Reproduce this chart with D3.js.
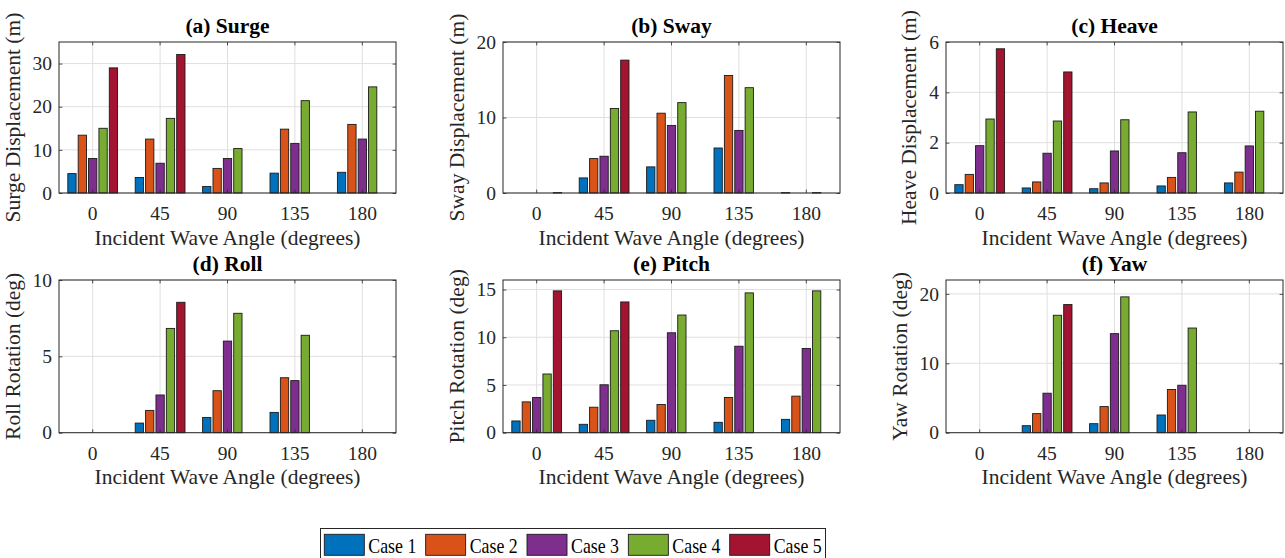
<!DOCTYPE html>
<html>
<head>
<meta charset="utf-8">
<script src="https://cdn.jsdelivr.net/npm/d3@7"></script>
<style>
  html, body { margin: 0; padding: 0; background: #ffffff; }
  svg { display: block; }
  text { font-family: "Liberation Serif", "Times New Roman", serif; }
</style>
</head>
<body>
<svg id="chart" width="1285" height="558"></svg>
<script>
// ---------------- data ----------------
const angles = ["0", "45", "90", "135", "180"];
const cases = ["Case 1", "Case 2", "Case 3", "Case 4", "Case 5"];
const caseColors = ["#0072BD", "#D95319", "#7E2F8E", "#77AC30", "#A2142F"];

// rows = incident wave angle, columns = Case 1..5 (null = no bar)
const surge = [
  [4.5, 13.4, 8.0, 15.0, 29.0],
  [3.6, 12.5, 6.9, 17.3, 32.1],
  [1.5, 5.7, 8.0, 10.3, null],
  [4.6, 14.8, 11.5, 21.4, null],
  [4.8, 15.9, 12.5, 24.6, null]
];
const sway = [
  [null, null, null, null, 0.05],
  [2.0, 4.56, 4.87, 11.2, 17.6],
  [3.46, 10.57, 8.95, 11.97, null],
  [5.96, 15.57, 8.29, 13.95, null],
  [0.05, null, null, 0.05, null]
];
const heave = [
  [0.33, 0.74, 1.88, 2.94, 5.73],
  [0.2, 0.44, 1.58, 2.86, 4.81],
  [0.17, 0.4, 1.67, 2.91, null],
  [0.28, 0.62, 1.6, 3.22, null],
  [0.4, 0.83, 1.87, 3.25, null]
];
const roll = [
  [null, null, null, null, null],
  [0.63, 1.46, 2.47, 6.83, 8.54],
  [1.0, 2.75, 6.0, 7.82, null],
  [1.33, 3.6, 3.41, 6.38, null],
  [null, null, null, null, null]
];
const pitch = [
  [1.23, 3.23, 3.69, 6.15, 14.86],
  [0.88, 2.67, 5.02, 10.68, 13.7],
  [1.3, 2.95, 10.47, 12.33, null],
  [1.09, 3.69, 9.06, 14.65, null],
  [1.4, 3.83, 8.82, 14.86, null]
];
const yaw = [
  [null, null, null, null, null],
  [1.01, 2.75, 5.69, 16.92, 18.46],
  [1.3, 3.76, 14.27, 19.57, null],
  [2.55, 6.22, 6.84, 15.08, null],
  [null, null, null, null, null]
];

const surgeTicks = [0, 10, 20, 30];
const swayTicks = [0, 10, 20];
const heaveTicks = [0, 2, 4, 6];
const rollTicks = [0, 5, 10];
const pitchTicks = [0, 5, 10, 15];
const yawTicks = [0, 10, 20];

const surgeMax = 35, swayMax = 20, heaveMax = 6, rollMax = 10, pitchMax = 16, yawMax = 22;

const xLabel = "Incident Wave Angle (degrees)";

// ---------------- layout ----------------
const colLeft = [59, 503, 946];
const plotW = 337;
const rowTop = [42, 280];
const rowBottom = [193, 432.7];

const panels = [
  { title: "(a) Surge", ylabel: "Surge Displacement (m)", data: surge, ticks: surgeTicks, ymax: surgeMax, col: 0, row: 0 },
  { title: "(b) Sway", ylabel: "Sway Displacement (m)", data: sway, ticks: swayTicks, ymax: swayMax, col: 1, row: 0 },
  { title: "(c) Heave", ylabel: "Heave Displacement (m)", data: heave, ticks: heaveTicks, ymax: heaveMax, col: 2, row: 0 },
  { title: "(d) Roll", ylabel: "Roll Rotation (deg)", data: roll, ticks: rollTicks, ymax: rollMax, col: 0, row: 1 },
  { title: "(e) Pitch", ylabel: "Pitch Rotation (deg)", data: pitch, ticks: pitchTicks, ymax: pitchMax, col: 1, row: 1 },
  { title: "(f) Yaw", ylabel: "Yaw Rotation (deg)", data: yaw, ticks: yawTicks, ymax: yawMax, col: 2, row: 1 }
];

const axisColor = "#262626";
const gridColor = "#dfdfdf";
const tickFont = 19.5;
const labelFont = 21.5;
const tickLen = 3.4;

const svg = d3.select("#chart");

panels.forEach(p => {
  const L = colLeft[p.col], R = L + plotW;
  const T = rowTop[p.row], B = rowBottom[p.row];
  const g = svg.append("g");

  const x0 = d3.scaleBand().domain(angles).range([L, R]).paddingInner(0).paddingOuter(0);
  const bw = x0.bandwidth();
  const gw = 5 / 6.5;
  const x1 = d3.scaleBand().domain(cases)
    .range([bw * (0.5 - gw / 2), bw * (0.5 + gw / 2)])
    .paddingInner(0.2).paddingOuter(0.1);
  const y = d3.scaleLinear().domain([0, p.ymax]).range([B, T]);
  const color = d3.scaleOrdinal().domain(cases).range(caseColors);

  // grid
  g.append("g").selectAll("line.hg").data(p.ticks).join("line")
    .attr("x1", L).attr("x2", R)
    .attr("y1", d => y(d)).attr("y2", d => y(d))
    .attr("stroke", gridColor).attr("stroke-width", 1);
  g.append("g").selectAll("line.vg").data(angles).join("line")
    .attr("x1", d => x0(d) + bw / 2).attr("x2", d => x0(d) + bw / 2)
    .attr("y1", T).attr("y2", B)
    .attr("stroke", gridColor).attr("stroke-width", 1);

  // bars
  const groups = g.append("g").selectAll("g").data(angles).join("g")
    .attr("transform", d => `translate(${x0(d)},0)`);
  groups.selectAll("rect")
    .data((a, i) => cases.map((c, j) => ({ c, v: p.data[i][j] })).filter(d => d.v !== null))
    .join("rect")
    .attr("x", d => x1(d.c))
    .attr("width", x1.bandwidth())
    .attr("y", d => y(d.v))
    .attr("height", d => Math.max(0.01, B - y(d.v)))
    .attr("fill", d => color(d.c))
    .attr("stroke", "#1a1a1a")
    .attr("stroke-width", 0.9);

  // axes
  const leftAxis = d3.axisLeft(y).tickValues(p.ticks).tickSize(-tickLen).tickPadding(7).tickFormat(d3.format("d"));
  const rightAxis = d3.axisRight(y).tickValues(p.ticks).tickSize(-tickLen).tickFormat("");
  const bottomAxis = d3.axisBottom(x0).tickSize(-tickLen).tickPadding(13);
  const topAxis = d3.axisTop(x0).tickSize(-tickLen).tickFormat("");

  const ya = g.append("g").attr("transform", `translate(${L},0)`).call(leftAxis);
  g.append("g").attr("transform", `translate(${R},0)`).call(rightAxis);
  g.append("g").attr("transform", `translate(0,${B})`).call(bottomAxis);
  g.append("g").attr("transform", `translate(0,${T})`).call(topAxis);
  g.selectAll(".domain").remove();
  g.selectAll(".tick line").attr("stroke", axisColor).attr("stroke-width", 0.8);
  g.selectAll(".tick text")
    .attr("fill", axisColor)
    .style("font-family", '"Liberation Serif", "Times New Roman", serif')
    .style("font-size", tickFont + "px");

  // box
  g.append("rect").attr("x", L).attr("y", T).attr("width", R - L).attr("height", B - T)
    .attr("fill", "none").attr("stroke", axisColor).attr("stroke-width", 1);

  // y tick label extent
  let minX = 0;
  ya.selectAll(".tick text").each(function () {
    const w = this.getComputedTextLength();
    minX = Math.max(minX, w);
  });
  const tickLeft = L - 7 - minX;

  // title
  g.append("text")
    .attr("x", (L + R) / 2).attr("y", T - 9)
    .attr("text-anchor", "middle")
    .style("font-size", labelFont + "px").style("font-weight", "bold")
    .attr("fill", "#000")
    .text(p.title);

  // x label
  g.append("text")
    .attr("x", (L + R) / 2).attr("y", B + 51.5)
    .attr("text-anchor", "middle")
    .style("font-size", labelFont + "px")
    .attr("fill", axisColor)
    .text(xLabel);

  // y label
  g.append("text")
    .attr("transform", `translate(${tickLeft - 13},${(T + B) / 2}) rotate(-90)`)
    .attr("text-anchor", "middle")
    .style("font-size", labelFont + "px")
    .attr("fill", axisColor)
    .text(p.ylabel);
});

// ---------------- legend ----------------
const leg = svg.append("g");
leg.append("rect").attr("x", 320.5).attr("y", 528.5).attr("width", 505).attr("height", 40)
  .attr("fill", "#fff").attr("stroke", axisColor).attr("stroke-width", 1);
const legX = d3.scalePoint().domain(cases).range([324.3, 729.7]);
const items = leg.selectAll("g.item").data(cases).join("g")
  .attr("transform", d => `translate(${legX(d)},0)`);
items.append("rect").attr("x", 0).attr("y", 534.3).attr("width", 40).attr("height", 21)
  .attr("fill", (d, i) => caseColors[i]).attr("stroke", "#1a1a1a").attr("stroke-width", 0.9);
items.append("text").attr("x", 44).attr("y", 553.3)
  .style("font-size", "21.5px").attr("fill", "#000")
  .attr("textLength", 48).attr("lengthAdjust", "spacingAndGlyphs")
  .text(d => d);
</script>
</body>
</html>
